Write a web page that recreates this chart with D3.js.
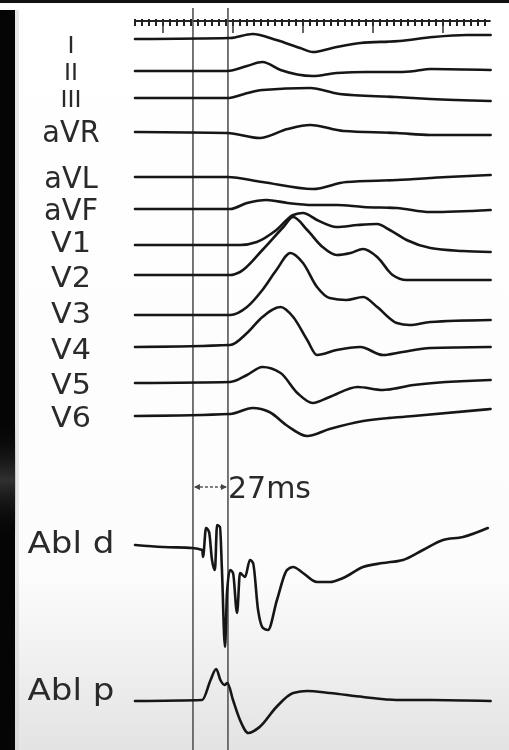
<!DOCTYPE html>
<html><head><meta charset="utf-8">
<script src="https://cdn.jsdelivr.net/npm/d3@7"></script>
<style>html,body{margin:0;padding:0;background:#fff;} svg{display:block;}</style>
</head><body>
<svg id="c" width="509" height="750"></svg>
<script>
// ---------------- DATA (time in ms, amplitude in arbitrary units) ----------------
const leadNames = ["I","II","III","aVR","aVL","aVF","V1","V2","V3","V4","V5","V6","Abl d","Abl p"];
const leadI   = [[0,0],[68,0.1],[84,0.5],[101,-0.1],[118,-0.9],[127,-1.3],[141,-0.9],[161,-0.4],[189,-0.2],[213,0.2],[237,0.4],[254,0.4]];
const leadII  = [[0,0],[66,0],[80,0.5],[91,0.9],[104,0.1],[127,-0.5],[144,-0.2],[166,-0.1],[189,-0.1],[200,0.0],[211,0.2],[254,0.1]];
const leadIII = [[0,0],[66,0],[78,0.4],[91,0.8],[125,1.0],[146,0.4],[186,0.1],[211,-0.1],[254,-0.3]];
const leadAVR = [[0,0],[66,-0.1],[89,-0.6],[109,0.3],[125,0.7],[149,0.1],[187,-0.1],[211,-0.3],[254,-0.3]];
const leadAVL = [[0,0],[66,0],[91,-0.5],[127,-1.2],[151,-0.5],[187,-0.3],[223,0],[254,0.2]];
const leadAVF = [[0,0],[68,0],[80,0.6],[94,0.9],[109,0.6],[127,0.4],[144,0.4],[163,0.2],[187,0.1],[211,-0.3],[254,-0.1]];
const leadV1  = [[0,0],[75,0],[87,0.3],[101,1.5],[113,3.0],[120,3.2],[130,2.5],[144,1.8],[159,2.0],[173,2.1],[182,1.5],[194,0.5],[211,-0.3],[234,-0.6],[254,-0.7]];
const leadV2  = [[0,0],[68,0],[75,0.3],[91,2.5],[106,4.8],[113,5.8],[123,4.5],[134,2.8],[144,2.0],[154,2.2],[163,2.6],[173,1.8],[184,0],[194,-0.5],[254,-0.5]];
const leadV3  = [[0,0],[68,0],[80,0.8],[91,2.5],[101,4.5],[111,6.2],[120,5.2],[130,2.8],[139,1.7],[151,1.5],[163,1.8],[173,0.8],[187,-0.8],[196,-1.0],[211,-0.7],[254,-0.5]];
const leadV4  = [[0,0],[68,0.2],[80,1.4],[91,3.0],[104,4.0],[113,3.0],[123,0.7],[130,-0.8],[144,-0.3],[161,0],[177,-0.8],[191,-0.5],[211,-0.1],[254,0]];
const leadV5  = [[0,0],[68,0.1],[80,0.8],[91,1.6],[104,1.0],[116,-1.0],[127,-2.0],[139,-1.4],[159,-0.4],[177,-0.7],[199,-0.2],[254,0.3]];
const leadV6  = [[0,0],[68,0.2],[84,0.8],[96,0.4],[109,-1.0],[123,-2.0],[139,-1.3],[163,-0.5],[199,0],[254,0.7]];
const ablD    = [[0,0.2],[20,0],[41,-0.1],[48,-0.3],[48.6,-1.0],[50.7,1.9],[52.9,1.5],[55,-1.3],[57.1,-2.3],[58.6,2.2],[60.7,2.0],[62.1,-2.3],[64.3,-10.0],[65.7,-4.6],[67.9,-2.3],[70,-2.6],[72.9,-6.6],[75,-2.6],[78.6,-3.0],[82.1,-1.3],[84.3,-1.6],[87.9,-6.3],[91.4,-8.1],[95,-8.3],[101.4,-5.3],[108.6,-2.3],[112.9,-2.0],[120,-2.6],[130,-3.5],[139.3,-3.5],[148.6,-3.1],[162.9,-2.0],[177.1,-1.6],[191.4,-1.3],[205.7,-0.3],[220,0.7],[234.3,1.0],[252,1.9]];
const ablP    = [[0,0],[48,0.1],[54,2.1],[58,3.2],[61,2.1],[64,1.6],[66,1.8],[70,0.1],[75,-1.9],[81,-3.2],[89,-2.6],[101,-0.6],[113,0.8],[123,1.0],[139,0.8],[163,0.4],[187,0.1],[211,0.1],[254,0]];
const traces = [leadI,leadII,leadIII,leadAVR,leadAVL,leadAVF,leadV1,leadV2,leadV3,leadV4,leadV5,leadV6,ablD,ablP];
const markerTimes = [41.4, 66.4];
const intervalLabel = "27ms";
const timeDomain = [0, 254];
const rulerMinorStep = 5, rulerMajorStart = 20, rulerMajorStep = 50;

// ---------------- LAYOUT ----------------
const W = 509, H = 750;
const rowY = [39,71,98,132,177,209,245,275,315,347,383,416,547,701];
const labelY = [45,72,99,132,178,210,242,277,313,349,384,417,543,690];
const labelSize = [24,24,24,28,28,28,28,28,28,28,28,28,31,31];
const labelFont = ["'Liberation Sans', sans-serif","'Liberation Sans', sans-serif","'Liberation Sans', sans-serif"];
const labelSX = [1.05,1.05,1.05,1.03,1.03,1.03,1.08,1.08,1.08,1.08,1.08,1.08,1.1,1.1];
const labelSY = [1,1,1,1.05,1.05,1.05,1,1,1,1,1,1,1,1];
const font = "'DejaVu Sans', sans-serif";
const svg = d3.select("#c");
const defs = svg.append("defs");
const grad = defs.append("linearGradient").attr("id","bg").attr("x1",0).attr("x2",0).attr("y1",0).attr("y2",1);
grad.append("stop").attr("offset","0%").attr("stop-color","#ffffff");
grad.append("stop").attr("offset","77%").attr("stop-color","#fcfcfc");
grad.append("stop").attr("offset","100%").attr("stop-color","#e3e3e3");
const smudge = defs.append("linearGradient").attr("id","sm").attr("x1",0).attr("x2",0).attr("y1",0).attr("y2",1);
smudge.append("stop").attr("offset","0%").attr("stop-color","#000").attr("stop-opacity",0);
smudge.append("stop").attr("offset","50%").attr("stop-color","#666").attr("stop-opacity",0.45);
smudge.append("stop").attr("offset","100%").attr("stop-color","#000").attr("stop-opacity",0);
defs.append("filter").attr("id","soft").append("feGaussianBlur").attr("stdDeviation",0.45);

svg.append("rect").attr("width",W).attr("height",H).attr("fill","url(#bg)");
svg.append("rect").attr("x",0).attr("y",0).attr("width",W).attr("height",3).attr("fill","#111");
svg.append("rect").attr("x",0).attr("y",10).attr("width",15).attr("height",H-10).attr("fill","#050505");
svg.append("rect").attr("x",0).attr("y",420).attr("width",16).attr("height",120).attr("fill","url(#sm)");
svg.append("rect").attr("x",15).attr("y",10).attr("width",4).attr("height",H-10).attr("fill","#cfcfcf").attr("opacity",0.5);

const x = d3.scaleLinear().domain(timeDomain).range([135, 490.6]);
const amp = d3.scaleLinear().domain([0,1]).range([0,-10]);

const g = svg.append("g").attr("filter","url(#soft)");

// ruler
const ruler = g.append("g");
ruler.append("line").attr("x1",x(timeDomain[0])).attr("x2",x(timeDomain[1])).attr("y1",21).attr("y2",21)
  .attr("stroke","#222").attr("stroke-width",2);
const minor = d3.range(timeDomain[0], timeDomain[1]+0.1, rulerMinorStep);
ruler.selectAll("line.mn").data(minor).join("line").attr("class","mn")
  .attr("x1",d=>x(d)).attr("x2",d=>x(d)).attr("y1",19).attr("y2",26)
  .attr("stroke","#222").attr("stroke-width",2);
const major = d3.range(rulerMajorStart, timeDomain[1], rulerMajorStep);
ruler.selectAll("line.mj").data(major).join("line").attr("class","mj")
  .attr("x1",d=>x(d)).attr("x2",d=>x(d)).attr("y1",21).attr("y2",33)
  .attr("stroke","#333").attr("stroke-width",1.5);

// markers
g.selectAll("line.mk").data(markerTimes).join("line").attr("class","mk")
  .attr("x1",d=>x(d)).attr("x2",d=>x(d)).attr("y1",8).attr("y2",H)
  .attr("stroke","#555").attr("stroke-width",1.6);

// traces
const line = d3.line().curve(d3.curveMonotoneX);
g.selectAll("path.tr").data(traces).join("path").attr("class","tr")
  .attr("d",(d,i)=>line.x(p=>x(p[0])).y(p=>rowY[i]+amp(p[1]))(d))
  .attr("fill","none").attr("stroke","#161616").attr("stroke-width",2.6)
  .attr("stroke-linejoin","round").attr("stroke-linecap","round");

// labels
g.selectAll("text.lb").data(leadNames).join("text").attr("class","lb")
  .attr("transform",(d,i)=>`translate(71,${labelY[i]}) scale(${labelSX[i]},${labelSY[i]})`)
  .attr("text-anchor","middle").attr("dominant-baseline","central")
  .attr("font-family",(d,i)=>labelFont[i] || font).attr("font-size",(d,i)=>labelSize[i])
  .attr("fill","#2a2a2a").text(d=>d);

// interval annotation
const ay = 487;
const ann = g.append("g");
ann.append("line").attr("x1",x(markerTimes[0])+2).attr("x2",x(markerTimes[1])-2).attr("y1",ay).attr("y2",ay)
  .attr("stroke","#555").attr("stroke-width",1.5).attr("stroke-dasharray","3,2");
ann.append("path").attr("d",`M${x(markerTimes[0])+1},${ay}l6,-3v6z`).attr("fill","#444");
ann.append("path").attr("d",`M${x(markerTimes[1])-1},${ay}l-6,-3v6z`).attr("fill","#444");
ann.append("text").attr("x",x(markerTimes[1])).attr("y",498)
  .attr("font-family",font).attr("font-size",30).attr("fill","#2a2a2a")
  .text(intervalLabel);
</script>
</body></html>
